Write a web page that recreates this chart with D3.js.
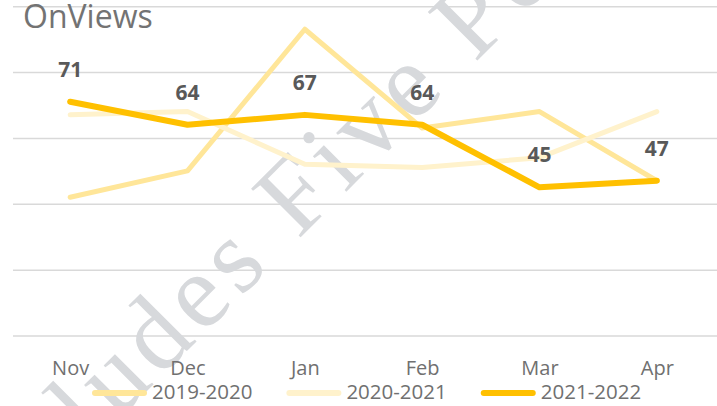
<!DOCTYPE html>
<html>
<head>
<meta charset="utf-8">
<script src="https://cdn.jsdelivr.net/npm/d3@7/dist/d3.min.js"></script>
<style>
  html, body { margin: 0; padding: 0; background: #ffffff; }
  svg { display: block; }
</style>
</head>
<body>
<svg id="chart" width="717" height="406"></svg>
<script>
// ---- data ----
const months = ["Nov", "Dec", "Jan", "Feb", "Mar", "Apr"];
const seriesNames = ["2019-2020", "2020-2021", "2021-2022"];
const values2019 = [42, 50, 93, 63, 68, 47];
const values2020 = [67, 68, 52, 51, 54, 68];
const values2021 = [71, 64, 67, 64, 45, 47];
const yTicks = [0, 20, 40, 60, 80, 100];
const titleText = "OnViews";
const watermarkBefore = "Includes";
const watermarkAfter = "Five Points";

const seriesValues = [values2019, values2020, values2021];
const colors = ["#FFE699", "#FFF2CC", "#FFC000"];
const widths = [5, 5, 6];

const svg = d3.select("#chart");
const W = 717, H = 406;

const x = d3.scalePoint().domain(months).range([11.5, 715.5]).padding(0.5);
const y = d3.scaleLinear().domain([0, 100]).range([335.5, 6.2]);

// gridlines
const grid = svg.append("g").attr("transform", "translate(13,0)")
  .call(d3.axisLeft(y).tickValues(yTicks).tickSize(-(W - 13)).tickFormat(""));
grid.select(".domain").remove();
grid.selectAll(".tick line").attr("stroke", "#d9d9d9").attr("stroke-width", 1.5);

// title
svg.append("text")
  .attr("x", 23).attr("y", 28)
  .attr("font-family", "'Open Sans', sans-serif")
  .attr("font-size", 32)
  .attr("fill", "#737373")
  .text(titleText);

// watermark
const wm = svg.append("g").attr("transform", "translate(298,240) rotate(-45)")
  .attr("font-family", "'Liberation Serif', 'Times New Roman', serif")
  .attr("font-size", 106)
  .attr("fill", "#d7d9dc")
  .attr("letter-spacing", 7);
wm.append("text").attr("x", -33).attr("y", 0).attr("text-anchor", "end").text(watermarkBefore);
wm.append("text").attr("x", 0).attr("y", 0).attr("text-anchor", "start").text(watermarkAfter);

// lines
const line = d3.line().x((d, i) => x(months[i])).y(d => y(d));
seriesValues.forEach((vals, si) => {
  svg.append("path")
    .datum(vals)
    .attr("d", line)
    .attr("fill", "none")
    .attr("stroke", colors[si])
    .attr("stroke-width", widths[si])
    .attr("stroke-linecap", "round")
    .attr("stroke-linejoin", "round");
});

// data labels for 2021-2022
svg.append("g").selectAll("text")
  .data(values2021)
  .join("text")
  .attr("x", (d, i) => x(months[i]))
  .attr("y", d => y(d) - 25)
  .attr("text-anchor", "middle")
  .attr("font-family", "'Open Sans', sans-serif")
  .attr("font-weight", "bold")
  .attr("font-size", 21)
  .attr("fill", "#595959")
  .text(d => d);

// x axis labels
const xAxis = svg.append("g").attr("transform", "translate(0,375)")
  .call(d3.axisBottom(x).tickSize(0).tickPadding(0));
xAxis.select(".domain").remove();
xAxis.selectAll("text")
  .attr("dy", 0)
  .attr("font-family", "'Open Sans', sans-serif")
  .attr("font-size", 20)
  .attr("fill", "#707070");

// legend
const legend = svg.append("g");
let lx = 92;
seriesNames.forEach((name, i) => {
  legend.append("line")
    .attr("x1", lx + 3).attr("x2", lx + 52)
    .attr("y1", 393).attr("y2", 393)
    .attr("stroke", colors[i]).attr("stroke-width", 6)
    .attr("stroke-linecap", "round");
  const t = legend.append("text")
    .attr("x", lx + 60).attr("y", 399)
    .attr("font-family", "'Open Sans', sans-serif")
    .attr("font-size", 20.5)
    .attr("fill", "#707070")
    .text(name);
  const w = t.node().getComputedTextLength();
  lx = lx + 60 + w + 34;
});
</script>
</body>
</html>
